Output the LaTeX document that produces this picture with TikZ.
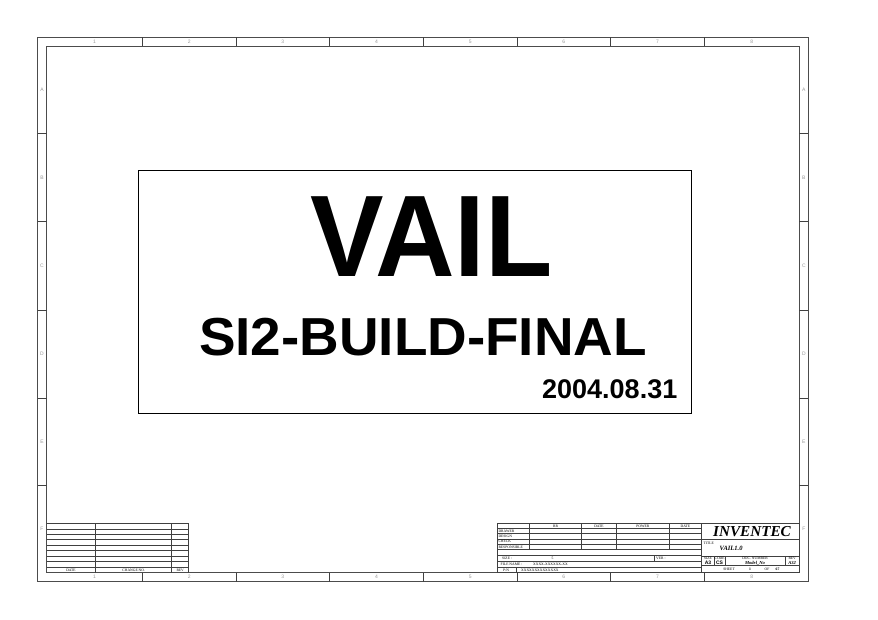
\documentclass[tikz,border=0pt]{standalone}
\usepackage{fontspec}
\setmainfont{Liberation Serif}
\newfontfamily\hsans{Liberation Sans}
\tikzset{
  framel/.style={draw=black!70, line width=0.75pt},
  gridl/.style={draw=black!75, line width=0.55pt},
  lbl/.style={font=\hsans\fontsize{5}{5}\selectfont, text=black!40, inner sep=0pt},
  tinyt/.style={font=\fontsize{3.7}{4}\selectfont, inner sep=0pt},
  bigt/.style={font=\hsans\bfseries, inner sep=0pt, anchor=base},
}
\begin{document}
\begin{tikzpicture}[x=1pt,y=-1pt]
\useasboundingbox[fill=white] (0,0) rectangle (878,620);
% frame
\draw[framel] (37.5,37.5) rectangle (808.3,581.7);
\draw[framel] (46.5,46) rectangle (799.3,572.7);
\foreach \cx in {142.3,236,329.6,423.3,517,610.6,704.3}{
  \draw[gridl] (\cx,37.5) -- (\cx,46);
  \draw[gridl] (\cx,572.7) -- (\cx,581.7);
}
\foreach \ry in {133.5,221.7,310,398,485.7}{
  \draw[gridl] (37.5,\ry) -- (46.5,\ry);
  \draw[gridl] (799.3,\ry) -- (808.3,\ry);
}
\foreach \n/\cx in {1/94.4,2/189.2,3/282.8,4/376.5,5/470.2,6/563.8,7/657.5,8/751.8}{
  \node[lbl] (top\n) at (\cx,42) {\n};
  \node[lbl] (bot\n) at (\cx,577.2) {\n};
}
\foreach \l/\ry in {A/89.7,B/177.6,C/265.9,D/354,E/441.9,F/529.2}{
  \node[lbl] (left\l) at (42,\ry) {\l};
  \node[lbl] (right\l) at (803.8,\ry) {\l};
}
% main box
\draw[line width=1.3pt] (138.7,170.2) rectangle (691.3,413.2);
\node[bigt, font=\hsans\bfseries\fontsize{116}{116}\selectfont] (vail) at (431.5,276.5) {\scalebox{0.95}[1]{VAIL}};
\node[bigt, font=\hsans\bfseries\fontsize{53.5}{53.5}\selectfont] (build) at (423,355) {\scalebox{1.025}[1]{SI2-BUILD-FINAL}};
\node[bigt, anchor=base east, font=\hsans\bfseries\fontsize{27}{27}\selectfont] (date) at (677.5,398.3) {2004.08.31};
% revision table (bottom left)
\foreach \k in {0,...,8}{
  \draw[gridl] (46.5,523.3+\k*5.49) -- (188.7,523.3+\k*5.49);
}
\draw[gridl] (95.7,523.3) -- (95.7,572.7);
\draw[gridl] (171.7,523.3) -- (171.7,572.7);
\draw[gridl] (188.7,523.3) -- (188.7,572.7);
\node[tinyt] (rdate) at (71,570) {DATE};
\node[tinyt] (rchg) at (133.7,570) {CHANGE NO.};
\node[tinyt] (rrev) at (180.2,570) {REV};
% title block (bottom right)
\draw[gridl] (497.7,523.3) rectangle (799.3,572.7);
\draw[gridl] (701.7,523.3) -- (701.7,572.7);
\foreach \ry in {528.3,533.7,539,544.3,549.7,555.3,561.3,567}{
  \draw[gridl] (497.7,\ry) -- (701.7,\ry);
}
\foreach \cx in {529.7,581.3,616.7,669}{
  \draw[gridl] (\cx,523.3) -- (\cx,549.7);
}
\draw[gridl] (654,555.3) -- (654,561.3);
\draw[gridl] (516.7,567) -- (516.7,572.7);
\node[tinyt] (hrr) at (555.5,525.9) {RR};
\node[tinyt] (hdate1) at (599,525.9) {DATE};
\node[tinyt] (hpower) at (642.8,525.9) {POWER};
\node[tinyt] (hdate2) at (685.3,525.9) {DATE};
\node[tinyt, anchor=west] (drawer) at (498.3,531.1) {DRAWER};
\node[tinyt, anchor=west] (design) at (498.3,536.4) {DESIGN};
\node[tinyt, anchor=west] (check) at (498.3,541.7) {CHECK};
\node[tinyt, anchor=west] (resp) at (498.3,547.1) {RESPONSIBLE};
\node[tinyt, anchor=west] (size) at (502,558.4) {SIZE :};
\node[tinyt] (sizev) at (552.5,558.4) {5};
\node[tinyt, anchor=west] (ver) at (656,558.4) {VER :};
\node[tinyt, anchor=west] (fname) at (500.5,564.2) {FILE NAME :};
\node[tinyt, anchor=west] (fnamev) at (533,564.2) {XXXX-XXXXXX-XX};
\node[tinyt, anchor=west] (pn) at (503,569.9) {P/N};
\node[tinyt, anchor=west] (pnv) at (521,569.9) {XXXXXXXXXXXXXX};
% right block
\draw[gridl] (701.7,539.7) -- (799.3,539.7);
\draw[gridl] (701.7,556) -- (799.3,556);
\draw[gridl] (701.7,565.7) -- (799.3,565.7);
\draw[gridl] (714.3,556) -- (714.3,565.7);
\draw[gridl] (725,556) -- (725,565.7);
\draw[gridl] (785,556) -- (785,565.7);
\node[inner sep=0pt, font=\bfseries\itshape\fontsize{15.2}{15}\selectfont] (inv) at (752,531.5) {INVENTEC};
\node[tinyt, anchor=west] (titlel) at (703.5,543.4) {TITLE};
\node[inner sep=0pt, anchor=west, font=\bfseries\itshape\fontsize{6.5}{6.5}\selectfont] (titlev) at (719.5,548.3) {VAIL1.0};
\node[tinyt] (sizel2) at (708,558.5) {SIZE};
\node[tinyt] (codel) at (719.6,558.5) {CODE};
\node[tinyt] (docl) at (755,558.5) {DOC. NUMBER};
\node[tinyt] (revl) at (792.2,558.5) {REV};
\node[inner sep=0pt, font=\hsans\bfseries\fontsize{5}{5}\selectfont] (a3) at (708,563) {A3};
\node[inner sep=0pt, font=\hsans\bfseries\fontsize{5}{5}\selectfont] (cs) at (719.6,563.2) {CS};
\node[inner sep=0pt, font=\bfseries\itshape\fontsize{4.6}{5}\selectfont] (modelno) at (755,563) {Model\_No};
\node[inner sep=0pt, font=\bfseries\itshape\fontsize{4.6}{5}\selectfont] (a32) at (792.2,563) {A32};
\node[tinyt] (sheet) at (729,569.3) {SHEET};
\node[tinyt, font=\bfseries\fontsize{3.7}{4}\selectfont] (one) at (750,569.3) {1};
\node[tinyt] (of) at (767,569.3) {OF};
\node[tinyt, font=\bfseries\fontsize{3.7}{4}\selectfont] (tot) at (777.5,569.3) {67};
\end{tikzpicture}
\end{document}
